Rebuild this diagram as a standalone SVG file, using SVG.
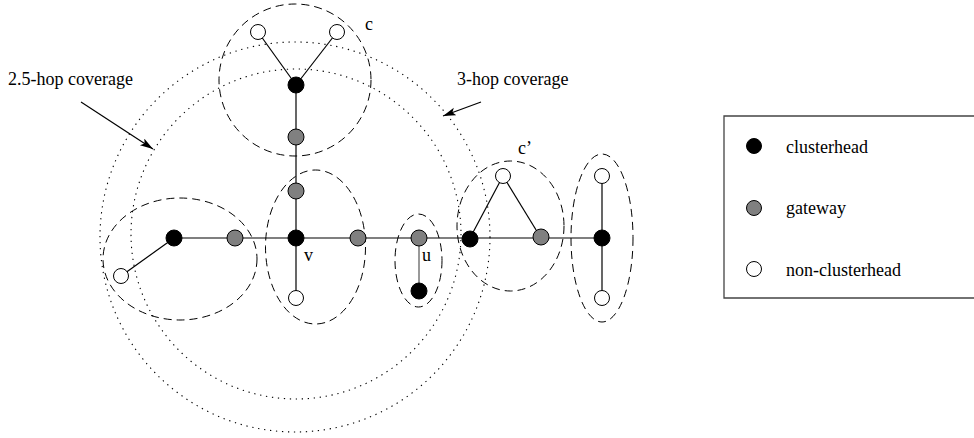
<svg xmlns="http://www.w3.org/2000/svg" width="974" height="438" viewBox="0 0 974 438">
  <style>
    .txt { font-family: "Liberation Serif", "Times New Roman", serif; font-size: 18px; fill: #000; }
    .edge { stroke: #000; stroke-width: 1.2; fill: none; }
    .dash { stroke: #000; stroke-width: 1; fill: none; stroke-dasharray: 8 5; }
    .dot { stroke: #000; stroke-width: 1.1; fill: none; stroke-dasharray: 1.3 4.7; }
    .ch { fill: #000; stroke: #000; stroke-width: 1; }
    .gw { fill: #808080; stroke: #000; stroke-width: 1; }
    .nch { fill: #fff; stroke: #000; stroke-width: 1; }
  </style>
  <defs>
    <marker id="head" markerUnits="userSpaceOnUse" markerWidth="14" markerHeight="10" refX="13" refY="4" orient="auto">
      <path d="M0,0 L13,4 L0,8 L3,4 Z" fill="#000"/>
    </marker>
  </defs>
  <rect width="974" height="438" fill="#fff"/>

  <!-- coverage ranges -->
  <g id="coverage">
    <circle class="dot" cx="295" cy="237" r="195"/>
    <circle class="dot" cx="296" cy="234" r="165"/>
  </g>

  <!-- cluster outlines -->
  <g id="clusters">
    <circle class="dash" cx="295" cy="80" r="76"/>
    <ellipse class="dash" cx="180" cy="259" rx="77" ry="61"/>
    <ellipse class="dash" cx="315.5" cy="247" rx="50" ry="77"/>
    <ellipse class="dash" cx="418.5" cy="260.5" rx="23.5" ry="46.5"/>
    <ellipse class="dash" cx="510.5" cy="226" rx="53.5" ry="65"/>
    <ellipse class="dash" cx="602" cy="238" rx="31" ry="84"/>
  </g>

  <!-- links -->
  <g id="connectors">
    <line class="edge" x1="174" y1="238" x2="602" y2="238"/>
    <line class="edge" x1="121" y1="276" x2="174" y2="238"/>
    <line class="edge" x1="296" y1="85" x2="296" y2="298"/>
    <line class="edge" x1="258" y1="32" x2="296" y2="85"/>
    <line class="edge" x1="337" y1="32" x2="296" y2="85"/>
    <line x1="419" y1="238" x2="419" y2="291" stroke="#555" stroke-width="1.2"/>
    <line class="edge" x1="503" y1="176" x2="470" y2="238"/>
    <line class="edge" x1="503" y1="176" x2="541" y2="238"/>
    <line class="edge" x1="602" y1="176" x2="602" y2="298"/>
    <line class="edge" x1="81" y1="102" x2="153" y2="149" marker-end="url(#head)"/>
    <line class="edge" x1="481" y1="102" x2="443" y2="116" marker-end="url(#head)"/>
  </g>

  <!-- nodes -->
  <g id="n-top-left"><circle class="nch" cx="258" cy="32" r="7.5"/></g>
  <g id="n-top-right"><circle class="nch" cx="337" cy="32" r="7.5"/></g>
  <g id="n-c"><circle class="ch" cx="296" cy="85" r="8"/></g>
  <g id="n-g1"><circle class="gw" cx="296" cy="137" r="8"/></g>
  <g id="n-g2"><circle class="gw" cx="296" cy="191" r="8"/></g>
  <g id="n-v"><circle class="ch" cx="296" cy="238" r="8"/></g>
  <g id="n-v-below"><circle class="nch" cx="296" cy="298" r="7.5"/></g>
  <g id="n-left-ch"><circle class="ch" cx="174" cy="238" r="8"/></g>
  <g id="n-left-nch"><circle class="nch" cx="121" cy="276" r="7.5"/></g>
  <g id="n-g3"><circle class="gw" cx="235" cy="238" r="8"/></g>
  <g id="n-g4"><circle class="gw" cx="358" cy="238" r="8"/></g>
  <g id="n-u"><circle class="gw" cx="419" cy="238" r="8"/></g>
  <g id="n-u-ch"><circle class="ch" cx="419" cy="291" r="8"/></g>
  <g id="n-cp"><circle class="ch" cx="470" cy="239" r="8"/></g>
  <g id="n-cp-top"><circle class="nch" cx="503" cy="176" r="7.5"/></g>
  <g id="n-g5"><circle class="gw" cx="541" cy="237" r="8"/></g>
  <g id="n-right-ch"><circle class="ch" cx="602" cy="238" r="8"/></g>
  <g id="n-right-top"><circle class="nch" cx="602" cy="176" r="7.5"/></g>
  <g id="n-right-bottom"><circle class="nch" cx="602" cy="298" r="7.5"/></g>

  <!-- labels -->
  <g id="labels">
    <text class="txt" x="8" y="85">2.5-hop coverage</text>
    <text class="txt" x="457" y="85">3-hop coverage</text>
    <text class="txt" x="365" y="30">c</text>
    <text class="txt" x="518" y="154">c’</text>
    <text class="txt" x="304" y="261">v</text>
    <text class="txt" x="422" y="261">u</text>
  </g>

  <!-- legend -->
  <g id="legend">
    <path d="M990,116 H724 V298 H990" fill="none" stroke="#444" stroke-width="1.3"/>
    <circle class="ch" cx="754" cy="146" r="7.5"/>
    <circle class="gw" cx="754" cy="208" r="7.5"/>
    <circle class="nch" cx="754" cy="269" r="7.5"/>
    <text class="txt" x="786" y="153">clusterhead</text>
    <text class="txt" x="786" y="214">gateway</text>
    <text class="txt" x="786" y="276">non-clusterhead</text>
  </g>
</svg>
